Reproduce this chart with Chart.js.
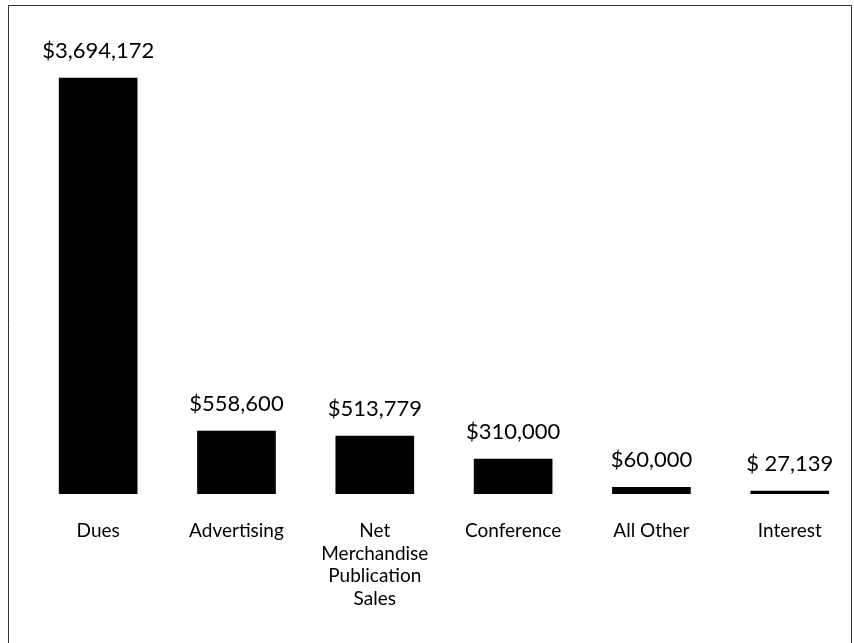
<!DOCTYPE html>
<html>
<head>
<meta charset="utf-8">
<style>
  html, body { margin: 0; padding: 0; background: #fff; overflow: hidden; }
  #wrap { width: 854px; height: 643px; position: relative; }
</style>
<script src="https://cdn.jsdelivr.net/npm/chart.js@4/dist/chart.umd.min.js"></script>
</head>
<body>
<div id="wrap"><canvas id="c" width="854" height="643"></canvas></div>
<script>
const categories = [
  'Dues',
  'Advertising',
  ['Net', 'Merchandise', 'Publication', 'Sales'],
  'Conference',
  'All Other',
  'Interest'
];
const revenue = [3694172, 558600, 513779, 310000, 60000, 27139];
const valueLabels = ['$3,694,172', '$558,600', '$513,779', '$310,000', '$60,000', '$ 27,139'];

const FONT = 'Lato, "Open Sans", sans-serif';

const framePlugin = {
  id: 'frame',
  beforeDraw(chart) {
    const ctx = chart.ctx;
    ctx.save();
    ctx.fillStyle = '#fff';
    ctx.fillRect(0, 0, chart.width, chart.height);
    ctx.strokeStyle = '#333';
    ctx.lineWidth = 1;
    ctx.beginPath();
    ctx.moveTo(8.5, chart.height + 2);
    ctx.lineTo(8.5, 5.5);
    ctx.lineTo(851.5, 5.5);
    ctx.lineTo(851.5, chart.height + 2);
    ctx.stroke();
    ctx.restore();
  }
};

const valueLabelPlugin = {
  id: 'valueLabels',
  afterDatasetsDraw(chart) {
    const ctx = chart.ctx;
    const meta = chart.getDatasetMeta(0);
    ctx.save();
    ctx.fillStyle = '#000';
    ctx.font = '22px ' + FONT;
    ctx.textAlign = 'center';
    ctx.textBaseline = 'middle';
    meta.data.forEach((bar, i) => {
      ctx.fillText(valueLabels[i], bar.x, bar.y - 27);
    });
    ctx.restore();
  }
};

new Chart(document.getElementById('c'), {
  type: 'bar',
  data: {
    datasets: [{
      data: revenue.map((v, i) => ({ x: i, y: v })),
      backgroundColor: '#000',
      borderWidth: 0,
      barThickness: 78
    }]
  },
  options: {
    responsive: false,
    animation: false,
    devicePixelRatio: 1,
    layout: { padding: { left: 29, right: 2, top: 20, bottom: 7 } },
    plugins: { legend: { display: false }, tooltip: { enabled: false } },
    scales: {
      x: {
        type: 'linear',
        offset: false,
        min: -0.5,
        max: 5.45,
        grid: { display: false, drawTicks: false, offset: false },
        border: { display: false },
        afterBuildTicks(scale) {
          scale.ticks = categories.map((_, i) => ({ value: i }));
        },
        ticks: {
          autoSkip: false,
          maxRotation: 0,
          minRotation: 0,
          padding: 26,
          color: '#000',
          font: { family: FONT, size: 19, lineHeight: 1.184 },
          callback: (v) => categories[v]
        }
      },
      y: {
        display: false,
        min: 0,
        max: 4210000
      }
    }
  },
  plugins: [framePlugin, valueLabelPlugin]
});
</script>
</body>
</html>
